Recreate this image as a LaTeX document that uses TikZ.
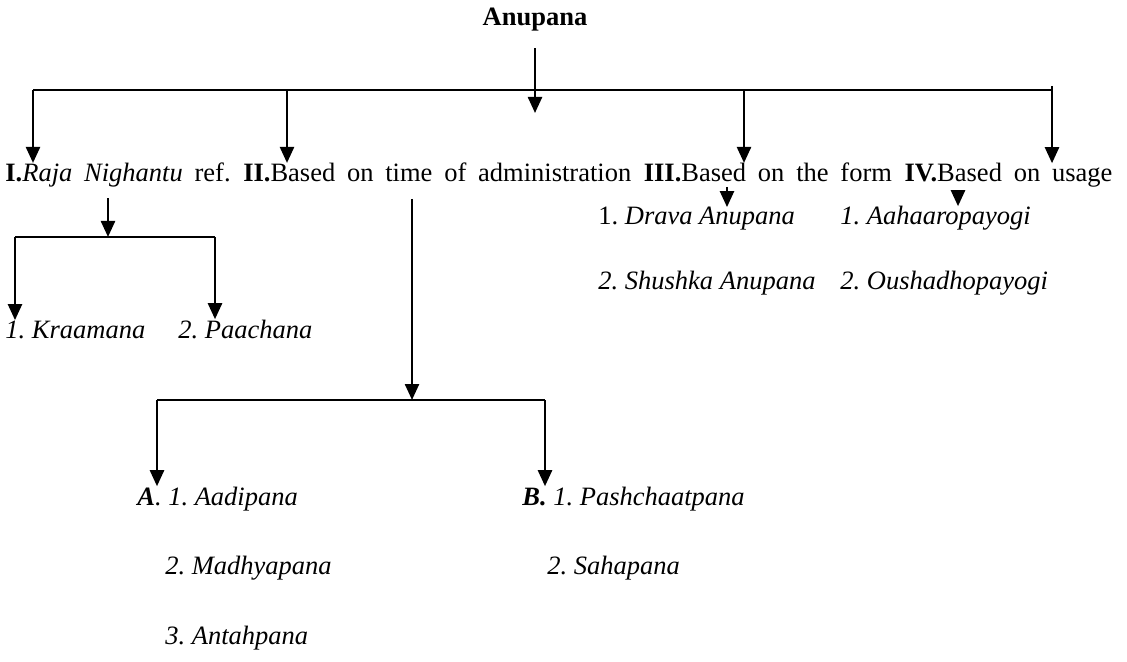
\documentclass[tikz,border=0pt]{standalone}
\usepackage{fontspec}
\setmainfont{Liberation Serif}
\frenchspacing
\usetikzlibrary{arrows.meta,positioning,calc}

\begin{document}
\begin{tikzpicture}[x=.5pt,y=-.5pt,>={Triangle[width=7pt,length=8pt]},
 item/.style={inner sep=0pt,anchor=base west,font=\fontsize{13.25}{16}\selectfont},
 group/.style={item,execute at begin node={\spaceskip=5.9pt\relax}},
 link/.style={line width=1.2pt},
 drop/.style={->,line width=1.2pt}]
\useasboundingbox (0,0) rectangle (1127,662);
% title and the four classes
\node[item,anchor=base] (anupana) at (535,26) {\textbf{Anupana}};
\node[group] (I) at (5,182) {\textbf{I.}\textit{Raja Nighantu} ref.};
\node[group,base right=5.9pt of I] (II) {\textbf{II.}Based on time of administration};
\node[group,base right=5.9pt of II] (III) {\textbf{III.}Based on the form};
\node[group,base right=5.9pt of III] (IV) {\textbf{IV.}Based on usage};

\coordinate (hub) at (535,113);
\coordinate (busL) at (33,90);
\coordinate (busR) at (1052,90);
\draw[drop,shorten <=8pt] (anupana.south) -- (hub);
\draw[link] (busL) -- (busR);
\draw[drop] (busL) -- (busL |- I.north);
\draw[drop] (287,90) -- (287,90 |- II.north);
\draw[drop] (744,90) -- (744,90 |- III.north);
\draw[drop] (1052,86) -- (busR |- IV.north);

% I. Raja Nighantu
\node[item] (kraamana) at (5,338) {\textit{1. Kraamana}};
\node[item] (paachana) at (178,338) {\textit{2. Paachana}};
\coordinate (rajaL) at (15,237);
\coordinate (rajaR) at (215,237);
\draw[drop,shorten <=5pt] (108,0 |- I.south) -- (108,237);
\draw[link] (rajaL) -- (rajaR);
\draw[drop] (rajaL) -- (rajaL |- kraamana.north);
\draw[drop] (rajaR) -- (rajaR |- paachana.north);

% II. time of administration
\node[item] (aadi) at (137,505) {\textbf{\textit{A}}\textit{. 1. Aadipana}};
\node[item] (madhya) at (165,574) {\textit{2. Madhyapana}};
\node[item] (antah) at (165,644) {\textit{3. Antahpana}};
\node[item] (pashchaat) at (522,505) {\textbf{\textit{B.}}\textit{ 1. Pashchaatpana}};
\node[item] (saha) at (547,574) {\textit{2. Sahapana}};
\coordinate (timeL) at (157,400);
\coordinate (timeR) at (545,400);
\draw[drop,shorten <=8pt] (412,0 |- II.south) -- (412,400);
\draw[link] (timeL) -- (timeR);
\draw[drop] (timeL) -- (timeL |- aadi.north);
\draw[drop] (timeR) -- (timeR |- pashchaat.north);

% III. form and IV. usage
\node[item] (drava) at (598,225) {1. \textit{Drava Anupana}};
\node[item] (shushka) at (598,289) {\textit{2. Shushka Anupana}};
\node[item] (aahaara) at (840,225) {\textit{1. Aahaaropayogi}};
\node[item] (oushadha) at (840,289) {\textit{2. Oushadhopayogi}};
\draw[drop,shorten <=2pt] (727,0 |- III.south) -- (727,0 |- drava.north);
\draw[drop,shorten <=2pt] (958,0 |- IV.south) -- (958,0 |- aahaara.north);
\end{tikzpicture}
\end{document}
